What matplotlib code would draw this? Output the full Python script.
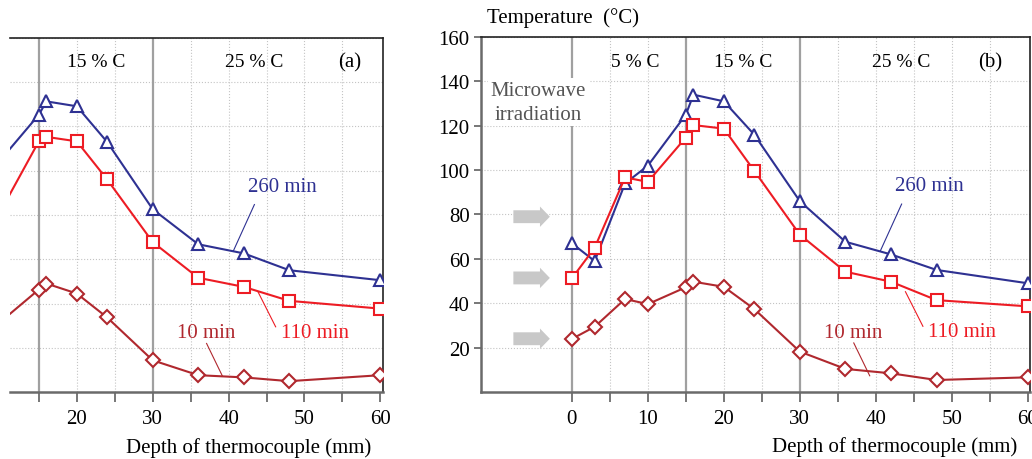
import numpy as np
import matplotlib
matplotlib.use('Agg')
import matplotlib.pyplot as plt

plt.rcParams['font.family'] = ['Liberation Serif', 'DejaVu Serif']

# panel (a): left part of the panel is cut off in the original picture
depth_a = [10, 15, 16, 20, 24, 30, 36, 42, 48, 60]
t260_a = [105, 125.2, 131.2, 129, 112.9, 82.6, 66.8, 62.7, 55.1, 50.6]
t110_a = [82, 113.2, 115.2, 113.2, 96, 67.8, 51.7, 47.6, 41.3, 37.8]
t10_a = [32, 46.4, 49.1, 44.6, 33.8, 14.5, 7.8, 6.8, 5.1, 7.8]

# panel (b)
depth_b = [0, 3, 7, 10, 15, 16, 20, 24, 30, 36, 42, 48, 60]
t260_b = [67, 59, 94, 102, 125, 134, 131, 116, 86, 67.7, 62, 55, 49]
t110_b = [51.2, 65, 96.7, 94.7, 114.7, 120.3, 118.7, 99.7, 70.9, 54.2, 49.7, 41.4, 38.6]
t10_b = [23.9, 29.4, 41.9, 39.6, 47.2, 49.7, 47.4, 37.4, 18.2, 10.4, 8.4, 5.4, 6.6]

zones = ['5 % C', '15 % C', '25 % C']
zone_x = [8.3, 22.5, 43.4]
arrow_y = [79, 51.4, 24]

blue = '#2e3192'
red = '#ed1c24'
dred = '#b0282e'
fs = 15


def setup(ax, xlim, show_left):
    # ticks first, set_xticks would widen the limits otherwise
    ax.set_yticks(range(20, 161, 20))
    ax.set_xticks(range(0, 61, 10))
    ax.set_xticks(range(5, 61, 10), minor=True)
    ax.set_xlim(*xlim)
    ax.set_ylim(0, 160)
    ax.yaxis.grid(True, ls=':', color='#c4c4c4', lw=0.8)
    ax.set_axisbelow(True)
    for x in [5, 10, 20, 25, 35, 40, 45, 50, 55]:
        ax.axvline(x, ls=':', color='#c4c4c4', lw=0.8, zorder=0)
    for x in [0, 15, 30]:
        ax.axvline(x, color='#a0a0a0', lw=1.6, zorder=1)
    ax.tick_params(axis='x', which='both', direction='out', length=7, width=1.2,
                   color='#606060', labelsize=fs, pad=5)
    ax.tick_params(axis='y', direction='out', length=5, width=1.2,
                   color='#606060', labelsize=fs, pad=3)
    for s in ['left', 'bottom']:
        ax.spines[s].set_color('#6a6a6a')
        ax.spines[s].set_linewidth(1.8)
    for s in ['top', 'right']:
        ax.spines[s].set_color('#222222')
        ax.spines[s].set_linewidth(1.2)
    if not show_left:
        ax.spines['left'].set_visible(False)
        ax.tick_params(axis='y', left=False, labelleft=False)


def curves(ax, x, a, b, c):
    mk = dict(markerfacecolor='white', markersize=8.5, markeredgewidth=1.5, zorder=3)
    ax.plot(x, a, color=blue, lw=1.5, marker='^', markeredgecolor=blue, **mk)
    ax.plot(x, b, color=red, lw=1.5, marker='s', markeredgecolor=red, **mk)
    ax.plot(x, c, color=dred, lw=1.5, marker='D', markeredgecolor=dred,
            **{**mk, 'markersize': 7.5})


def labels(ax):
    ax.text(47.1, 92.9, '260 min', color=blue, fontsize=fs, ha='center', va='center')
    ax.plot([43.4, 40.6], [84.7, 63.6], color=blue, lw=0.8)
    ax.text(51.4, 27.2, '110 min', color=red, fontsize=fs, ha='center', va='center')
    ax.plot([46.2, 43.9], [29.6, 45.2], color=red, lw=0.8)
    ax.text(37, 26.9, '10 min', color=dred, fontsize=fs, ha='center', va='center')
    ax.plot([37.1, 39.2], [22.1, 7.3], color=dred, lw=0.8)


fig = plt.figure(figsize=(10.32, 4.6), dpi=100)

ax_a = fig.add_axes([0.0097, 0.1446, 0.3611, 0.7717])
setup(ax_a, (11.2, 60.3), False)
curves(ax_a, depth_a, t260_a, t110_a, t10_a)
labels(ax_a)
for z, x in zip(zones[1:], zone_x[1:]):
    ax_a.text(x, 149, z, fontsize=fs - 1, ha='center', va='center')
ax_a.text(56, 149, '(a)', fontsize=fs, ha='center', va='center')

ax_b = fig.add_axes([0.4658, 0.1457, 0.5323, 0.7717])
setup(ax_b, (-12, 60.3), True)
curves(ax_b, depth_b, t260_b, t110_b, t10_b)
labels(ax_b)
for z, x in zip(zones, zone_x):
    ax_b.text(x, 149, z, fontsize=fs - 1, ha='center', va='center')
ax_b.text(55, 149, '(b)', fontsize=fs, ha='center', va='center')
ax_b.text(-4.4, 130.6, 'Microwave\nirradiation', fontsize=fs, color='#555555',
          ha='center', va='center', linespacing=1.35, zorder=2,
          bbox=dict(facecolor='white', edgecolor='none', pad=2))
for y in arrow_y:
    ax_b.arrow(-7.7, y, 4.8, 0, width=5.8, head_width=9.2, head_length=1.3,
               length_includes_head=True, color='#c8c8c8', lw=0, zorder=2)

fig.text(0.472, 0.961, 'Temperature  (°C)', fontsize=fs, ha='left', va='center')
fig.text(0.36, 0.026, 'Depth of thermocouple (mm)', fontsize=fs, ha='right', va='center')
fig.text(0.986, 0.029, 'Depth of thermocouple (mm)', fontsize=fs, ha='right', va='center')

fig.savefig('out.png', dpi=100)
